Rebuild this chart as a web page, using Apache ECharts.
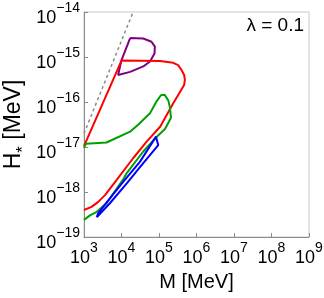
<!DOCTYPE html>
<html><head><meta charset="utf-8">
<script src="https://cdn.jsdelivr.net/npm/echarts@6/dist/echarts.min.js"></script>
<style>html,body{margin:0;padding:0;background:#fff}#c{width:324px;height:298px}</style>
</head><body><div id="c"></div>
<script>
// Values, as log10(M [MeV]) and log10(H* [MeV])
const xTickExps = [3, 4, 5, 6, 7, 8, 9];
const yTickExps = [-19, -18, -17, -16, -15, -14];
const lambdaText = 'λ = 0.1';

const dashedLogM = [3.0, 4.31];
const dashedLogH = [-16.70, -14.0];

const purpleLogM = [4.23, 4.58, 4.80, 4.89, 4.88, 4.76, 4.58, 4.23, 3.91, 4.0, 4.23];
const purpleLogH = [-14.58, -14.59, -14.66, -14.77, -14.92, -15.10, -15.21, -15.33, -15.40, -15.07, -14.58];

const redLogM = [3.0, 3.2, 3.38, 3.56, 3.78, 4.31, 4.67, 5.03, 5.38, 5.67, 5.69, 5.67, 5.60, 5.51, 5.38, 5.03, 4.0, 3.0];
const redLogH = [-18.40, -18.33, -18.22, -18.07, -17.83, -17.25, -16.88, -16.55, -16.03, -15.62, -15.51, -15.40, -15.29, -15.18, -15.13, -15.09, -15.08, -16.98];

const greenLogM = [3.0, 3.05, 3.60, 4.23, 4.45, 4.76, 4.94, 5.05, 5.15, 5.25, 5.29, 5.32, 5.16, 4.94, 4.58, 4.14, 4.05, 3.6, 3.34, 3.16, 3.0];
const greenLogH = [-17.02, -16.93, -16.90, -16.66, -16.50, -16.25, -15.98, -15.85, -15.84, -15.97, -16.12, -16.35, -16.60, -16.77, -17.10, -17.58, -17.71, -18.25, -18.44, -18.52, -18.62];

const blueLogM = [3.34, 3.38, 3.69, 4.05, 4.49, 4.92, 4.98, 4.58, 4.14, 3.69, 3.34];
const blueLogH = [-18.56, -18.47, -18.14, -17.77, -17.33, -16.77, -16.96, -17.36, -17.81, -18.25, -18.56];

function toPairs(lm, lh) {
  return lm.map((v, i) => [Math.pow(10, v), Math.pow(10, lh[i])]);
}

const FONT = 'Liberation Sans, Arial, sans-serif';
const tickRich = {
  b: { fontSize: 18, fontFamily: FONT, color: '#000', lineHeight: 26, verticalAlign: 'bottom' },
  s: { fontSize: 14, fontFamily: FONT, color: '#000', lineHeight: 14, verticalAlign: 'top' }
};
function expLabel(v) {
  const e = Math.round(Math.log10(v));
  const es = e < 0 ? '\u2212' + (-e) : String(e);
  return '{b|10}{s|' + es + '}';
}

const chart = echarts.init(document.getElementById('c'), null, { renderer: 'canvas' });
function lineSeries(name, data, color, extra) {
  return Object.assign({
    name, type: 'line', data, showSymbol: false, symbol: 'none', smooth: false, clip: true,
    lineStyle: { color, width: 2 }, silent: true, animation: false
  }, extra || {});
}
chart.setOption({
  animation: false,
  backgroundColor: '#fff',
  grid: {
    left: 84, right: 15, top: 12, bottom: 61, containLabel: false, outerBoundsMode: 'none',
    show: true, borderColor: '#c8c8c8', borderWidth: 1
  },
  xAxis: {
    type: 'log', logBase: 10, min: Math.pow(10, xTickExps[0]), max: Math.pow(10, xTickExps[xTickExps.length - 1]),
    interval: 1,
    name: 'M [MeV]', nameLocation: 'middle', nameGap: 35, nameMoveOverlap: false,
    nameTextStyle: { fontSize: 20, fontFamily: FONT, color: '#000' },
    axisLine: { lineStyle: { color: '#8c8c8c', width: 1 } },
    axisTick: { inside: true, length: 4, lineStyle: { color: '#8c8c8c' } },
    minorTick: { show: false },
    splitLine: { show: false },
    axisLabel: { formatter: expLabel, rich: tickRich, margin: 4, showMinLabel: true, showMaxLabel: true }
  },
  yAxis: {
    type: 'log', logBase: 10, min: Math.pow(10, yTickExps[0]), max: Math.pow(10, yTickExps[yTickExps.length - 1]),
    interval: 1,
    name: '{b|H}{sub|*}{b| [MeV]}', nameLocation: 'middle', nameGap: 52, nameRotate: 90, nameMoveOverlap: false,
    nameTextStyle: {
      rich: {
        b: { fontSize: 23, fontFamily: FONT, color: '#000', lineHeight: 30, verticalAlign: 'top' },
        sub: { fontSize: 17, fontFamily: FONT, color: '#000', lineHeight: 14, verticalAlign: 'bottom' }
      }
    },
    axisLine: { lineStyle: { color: '#8c8c8c', width: 1 } },
    axisTick: { inside: true, length: 4, lineStyle: { color: '#8c8c8c' } },
    splitLine: { show: false },
    axisLabel: { formatter: expLabel, rich: tickRich, margin: 4, padding: [5, 0, 0, 0], showMinLabel: true, showMaxLabel: true }
  },
  graphic: [{
    type: 'text', right: 20, top: 16,
    style: { text: lambdaText, fontSize: 19, fontFamily: FONT, fill: '#000' }
  }],
  series: [
    lineSeries('dashed', toPairs(dashedLogM, dashedLogH), '#8a8a8a', { lineStyle: { color: '#8a8a8a', width: 1.5, type: [3, 3] } }),
    lineSeries('purple', toPairs(purpleLogM, purpleLogH), '#800080'),
    lineSeries('red', toPairs(redLogM, redLogH), '#ff0000'),
    lineSeries('green', toPairs(greenLogM, greenLogH), '#00a000'),
    lineSeries('blue', toPairs(blueLogM, blueLogH), '#0000ff')
  ]
});
</script></body></html>
